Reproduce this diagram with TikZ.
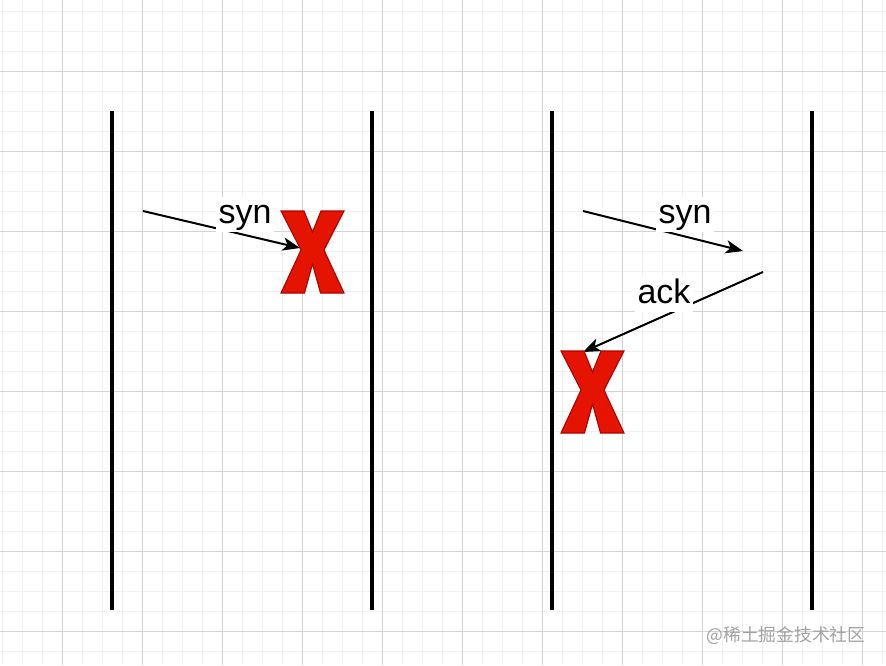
\documentclass[tikz,border=0pt]{standalone}
\usepackage{fontspec}
\setmainfont{Liberation Sans}
\newfontfamily\cjkfont{Noto Sans CJK SC}
\usepackage{xcolor}
\usetikzlibrary{arrows.meta}
\definecolor{gridminor}{HTML}{F1F1F1}
\definecolor{gridmajor}{HTML}{D3D3D3}
\definecolor{lostfill}{HTML}{E51400}
\definecolor{lostline}{HTML}{B20000}
\definecolor{markgray}{HTML}{A3A3A3}
\tikzset{
  minorline/.style={gridminor, line width=0.75pt},
  majorline/.style={gridmajor, line width=0.75pt},
  host/.style={line width=3pt},
  msg/.style={-{Stealth[length=13pt, width=10pt, inset=3.5pt]}, line width=1.5pt},
  msglabel/.style={fill=white, inner xsep=2pt, inner ysep=1.5pt, anchor=base,
    text height=18pt, text depth=5pt, font=\fontsize{25.5}{30}\selectfont},
  lostx/.style={fill=lostfill, draw=lostline, line width=0.8pt, line join=miter},
  pics/lostmark/.style={code={
    \draw[lostx] (-31.5,-41) -- (-8.5,-41) -- (0,-20) -- (8.5,-41) -- (31.5,-41)
      -- (11.5,-2) -- (31.5,41) -- (8,41) -- (0,12) -- (-8,41) -- (-31.5,41)
      -- (-11.5,-2) -- cycle;
  }}
}
\begin{document}
\begin{tikzpicture}[x=0.75pt, y=-0.75pt]
  \useasboundingbox (0,0) rectangle (886,665);
  \fill[white] (0,0) rectangle (886,665);
  % background grid
  \foreach \gx in {2,22,...,882} \draw[minorline] (\gx,0) -- (\gx,665);
  \foreach \gy in {11,31,...,651} \draw[minorline] (0,\gy) -- (886,\gy);
  \foreach \gx in {62,142,...,862} \draw[majorline] (\gx,0) -- (\gx,665);
  \foreach \gy in {71,151,...,631} \draw[majorline] (0,\gy) -- (886,\gy);

  % the four hosts
  \foreach \hx [count=\i] in {111.5,372,552,812} {
    \coordinate (top\i) at (\hx,111);
    \coordinate (bot\i) at (\hx,610);
    \draw[host] (top\i) -- (bot\i);
  }

  % left case: syn is lost
  \coordinate (synA) at (143,211);
  \coordinate (lostA) at (300,248);
  \draw[msg] (synA) -- (lostA);
  \node[msglabel] (synAlabel) at (245,223) {syn};
  \pic at (312.5,252) {lostmark};

  % right case: syn arrives, ack is lost
  \coordinate (synB) at (583,211);
  \coordinate (synBend) at (743,251);
  \coordinate (ackB) at (763,272);
  \coordinate (lostB) at (583,352);
  \draw[msg] (synB) -- (synBend);
  \draw[msg] (ackB) -- (lostB);
  \node[msglabel] (synBlabel) at (685,223) {syn};
  \node[msglabel] (ackBlabel) at (664,303) {ack};
  \pic at (592.5,392) {lostmark};

  \node[text=markgray, font=\cjkfont\fontsize{13.3}{16}\selectfont] (mark) at (786,635.5) {@稀土掘金技术社区};
\end{tikzpicture}
\end{document}
